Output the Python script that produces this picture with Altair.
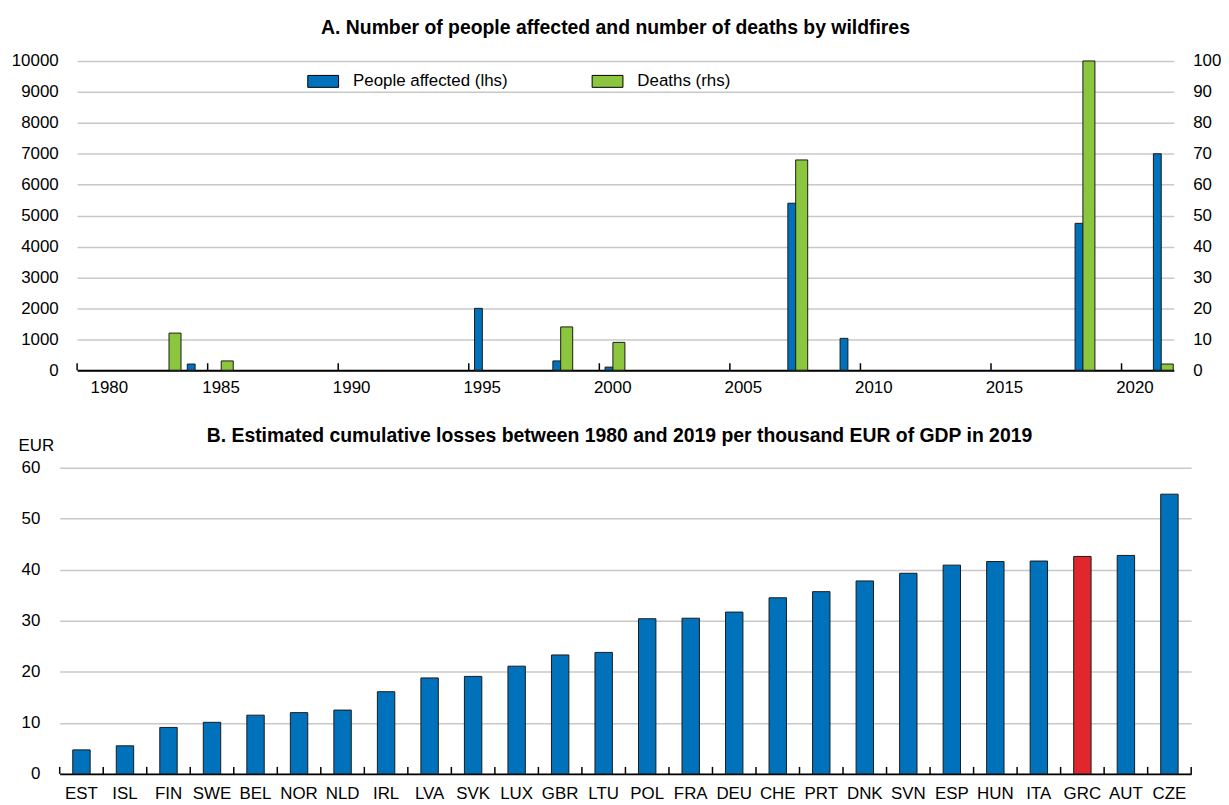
import altair as alt
import pandas as pd

FONT = "Liberation Sans, Arial, sans-serif"
FS = 17
TFS = 19.5
BLUE = "#0072BC"
GREEN = "#8CC63F"
RED = "#E1262D"
GRID = "#C8C8C8"

# ---- Panel A data ----
series = ["People affected (lhs)", "Deaths (rhs)"]
people_years = [1984, 1995, 1998, 2000, 2007, 2009, 2018, 2021]
people_values = [200, 2000, 300, 100, 5400, 1030, 4750, 7000]
death_years = [1983, 1985, 1998, 2000, 2007, 2018, 2021]
death_values = [12, 3, 14, 9, 68, 100, 2]
year_ticks = [1980, 1985, 1990, 1995, 2000, 2005, 2010, 2015, 2020]
people_ticks = list(range(0, 10001, 1000))
death_ticks = list(range(0, 101, 10))

# ---- Panel B data ----
countries = ["EST", "ISL", "FIN", "SWE", "BEL", "NOR", "NLD", "IRL", "LVA", "SVK",
             "LUX", "GBR", "LTU", "POL", "FRA", "DEU", "CHE", "PRT", "DNK", "SVN",
             "ESP", "HUN", "ITA", "GRC", "AUT", "CZE"]
losses = [4.7, 5.5, 9.1, 10.1, 11.5, 12.0, 12.5, 16.1, 18.8, 19.1,
          21.1, 23.3, 23.8, 30.4, 30.5, 31.7, 34.5, 35.7, 37.8, 39.3,
          40.9, 41.6, 41.7, 42.6, 42.8, 54.8]
loss_ticks = list(range(0, 61, 10))

title_a = "A. Number of people affected and number of deaths by wildfires"
title_b = "B. Estimated cumulative losses between 1980 and 2019 per thousand EUR of GDP in 2019"

WA, HA = 1103, 311
WB, HB = 1138, 308

people_df = pd.DataFrame({"year": people_years, "value": people_values, "series": series[0]})
deaths_df = pd.DataFrame({"year": death_years, "value": death_values, "series": series[1]})
yticks_df = pd.DataFrame({"year": year_ticks})

xA = alt.Scale(domain=[1980, 2022], nice=False, zero=False)
axis_xA = alt.Axis(values=year_ticks, format="d", labelOffset=13, ticks=False, grid=False,
                   domainColor="black", domainWidth=2, labelPadding=9, title=None)

color_a = alt.Color(
    "series:N",
    scale=alt.Scale(domain=series, range=[BLUE, GREEN]),
    legend=alt.Legend(
        title=None, orient="none", legendX=249, legendY=4.5, direction="horizontal",
        symbolType="M-1,-0.387H1V0.387H-1Z", symbolSize=961,
        symbolStrokeColor="black", symbolStrokeWidth=1, symbolOpacity=1,
        labelFont=FONT, labelFontSize=FS, labelColor="black", labelOffset=14, labelLimit=0,
        columnPadding=82, padding=0,
    ),
)

blue = alt.Chart(people_df).transform_calculate(
    x0="datum.year + 0.22", x1="datum.year + 0.52"
).mark_bar(stroke="#1a1a1a", strokeWidth=1, opacity=1).encode(
    x=alt.X("x0:Q", scale=xA, axis=axis_xA),
    x2="x1:Q",
    y=alt.Y("value:Q", scale=alt.Scale(domain=[0, 10000], nice=False),
            axis=alt.Axis(orient="left", values=people_ticks, format="d", grid=True, ticks=False,
                          domain=False, labelPadding=19, title=None)),
    y2=alt.datum(0),
    color=color_a,
)

green = alt.Chart(deaths_df).transform_calculate(
    x0="datum.year + 0.52", x1="datum.year + 0.98"
).mark_bar(stroke="#1a1a1a", strokeWidth=1, opacity=1).encode(
    x=alt.X("x0:Q", scale=xA, axis=axis_xA),
    x2="x1:Q",
    y=alt.Y("value:Q", scale=alt.Scale(domain=[0, 100], nice=False),
            axis=alt.Axis(orient="right", values=death_ticks, format="d", grid=False, ticks=False,
                          domain=False, labelPadding=19, title=None)),
    y2=alt.datum(0),
    color=color_a,
)

ticks_a = alt.Chart(yticks_df).mark_rule(color="black", strokeWidth=1.5).encode(
    x=alt.X("year:Q", scale=xA, axis=axis_xA),
    y=alt.value(HA),
    y2=alt.value(HA - 7),
)

panel_a = alt.layer(blue, green, ticks_a).resolve_scale(y="independent").properties(
    width=WA, height=HA,
    title=alt.Title(title_a, frame="group", anchor="middle", dx=-10, offset=14),
)

# ---- Panel B ----
b_df = pd.DataFrame({"country": countries, "loss": losses})
xB_scale = alt.Scale(paddingInner=0, paddingOuter=0)
axis_xB = alt.Axis(ticks=False, labelAngle=0, domainColor="black", domainWidth=2,
                   labelPadding=12, title=None, grid=False)

bars_b = alt.Chart(b_df).mark_bar(width=alt.RelativeBandSize(0.4), stroke="#1a1a1a", strokeWidth=1).encode(
    x=alt.X("country:N", sort=countries, scale=xB_scale, axis=axis_xB),
    y=alt.Y("loss:Q", scale=alt.Scale(domain=[0, 60], nice=False),
            axis=alt.Axis(values=loss_ticks, grid=True, ticks=False, domain=False, labelPadding=20,
                          title="EUR", titleAngle=0, titleAlign="left", titleBaseline="middle",
                          titleX=-42, titleY=-22, titleFont=FONT, titleFontSize=FS,
                          titleFontWeight="normal", titleColor="black")),
    color=alt.condition(alt.datum.country == "GRC", alt.value(RED), alt.value(BLUE)),
)

ticks_b = alt.Chart(pd.DataFrame({"country": countries})).mark_rule(color="black", strokeWidth=1.5).encode(
    x=alt.X("country:N", sort=countries, scale=xB_scale, bandPosition=0, axis=axis_xB),
    y=alt.value(HB),
    y2=alt.value(HB - 7),
)
ticks_b_end = alt.Chart(pd.DataFrame({"country": [countries[-1]]})).mark_rule(color="black", strokeWidth=1.5).encode(
    x=alt.X("country:N", sort=countries, scale=xB_scale, bandPosition=1, axis=axis_xB),
    y=alt.value(HB),
    y2=alt.value(HB - 7),
)

panel_b = alt.layer(bars_b, ticks_b, ticks_b_end).properties(
    width=WB, height=HB,
    title=alt.Title(title_b, frame="group", anchor="middle", dx=-6, offset=-10),
)

chart = alt.vconcat(panel_a, panel_b, spacing=98, center=True, bounds="flush").properties(
    padding={"left": 3, "top": 7, "right": 0, "bottom": 0}
).configure_view(stroke=None).configure_axis(
    labelFont=FONT, labelFontSize=FS, labelColor="black",
    gridColor=GRID, gridWidth=1.5,
).configure_title(
    font=FONT, fontSize=TFS, fontWeight="bold", color="black",
)

chart.save("out.html", embed_options={"renderer": "svg", "actions": False})
